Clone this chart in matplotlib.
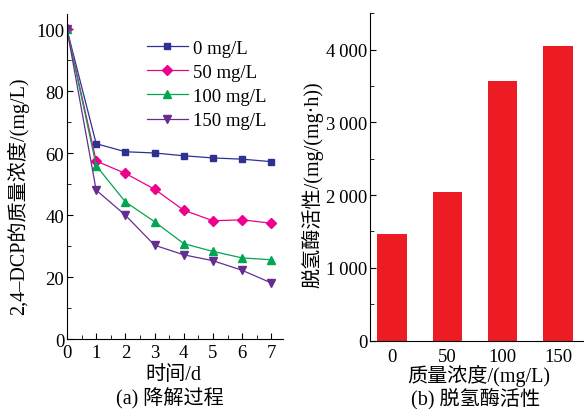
import matplotlib
matplotlib.use("Agg")
import matplotlib.pyplot as plt
from matplotlib.ticker import MultipleLocator, FuncFormatter

plt.rcParams['font.family'] = ['Liberation Serif', 'Noto Sans CJK SC']
plt.rcParams['axes.unicode_minus'] = False

days = [0, 1, 2, 3, 4, 5, 6, 7]
c0 = [100, 63.1, 60.5, 60.1, 59.2, 58.5, 58.1, 57.3]
c50 = [100, 57.5, 53.5, 48.4, 41.6, 38.2, 38.5, 37.4]
c100 = [100, 56.0, 44.3, 37.9, 30.8, 28.3, 26.2, 25.6]
c150 = [100, 48.1, 40.0, 30.3, 27.2, 25.3, 22.2, 18.1]
series_labels = ['0 mg/L', '50 mg/L', '100 mg/L', '150 mg/L']

bar_cats = ['0', '50', '100', '150']
activity = [1471, 2044, 3570, 4051]

W, H = 584, 410
fig = plt.figure(figsize=(W / 100, H / 100), dpi=100)
fs = 13.5
lfs = 14.5


def fx(px):
    return px / W


def fy(py):
    return 1 - py / H


ax1 = fig.add_axes([0.1147, 0.1707, 0.370, 0.7927])
styles = [('#2E3192', 's', 5), ('#EC008C', 'D', 5), ('#00A651', '^', 6), ('#662D91', 'v', 6)]
for ys, (col, mk, ms), lab in zip([c0, c50, c100, c150], styles, series_labels):
    ax1.plot(days, ys, color=col, marker=mk, markersize=ms,
             linewidth=0.9, label=lab)
ax1.set_xlim(0, 7.4)
ax1.set_ylim(0, 105)
ax1.xaxis.set_major_locator(MultipleLocator(1))
ax1.xaxis.set_minor_locator(MultipleLocator(0.5))
ax1.yaxis.set_major_locator(MultipleLocator(20))
ax1.yaxis.set_minor_locator(MultipleLocator(10))
ax1.tick_params(which='both', direction='in', labelsize=fs)
ax1.tick_params(which='major', length=4)
ax1.tick_params(which='minor', length=3)
ax1.tick_params(axis='y', pad=2)
for s in ['top', 'right']:
    ax1.spines[s].set_visible(False)
fig.text(fx(18), fy(196), '2,4–DCP的质量浓度/(mg/L)', rotation=90,
         ha='center', va='center', fontsize=lfs)
fig.text(fx(173), fy(376), '时间/d', ha='center', va='center', fontsize=lfs)
fig.text(fx(170), fy(399), '(a) 降解过程', ha='center', va='center', fontsize=lfs)
ax1.legend(loc='upper right', bbox_to_anchor=(0.96, 0.945), frameon=False,
           fontsize=fs, handlelength=2.2, handletextpad=0.3, labelspacing=0.38,
           borderaxespad=0)

ax2 = fig.add_axes([0.6336, 0.1666, 0.3647, 0.799])
x = range(len(bar_cats))
ax2.bar(x, activity, width=0.53, color='#ED1C24')
ax2.set_xlim(-0.4, 3.45)
ax2.set_ylim(0, 4500)
ax2.set_xticks(list(x))
ax2.set_xticklabels(bar_cats)
ax2.yaxis.set_major_locator(MultipleLocator(1000))
ax2.yaxis.set_minor_locator(MultipleLocator(500))
ax2.yaxis.set_major_formatter(FuncFormatter(
    lambda v, p: '0' if v == 0 else f'{int(v):,}'.replace(',', '\u2009')))
ax2.tick_params(which='both', direction='in', labelsize=fs)
ax2.tick_params(axis='y', which='major', length=4, pad=2)
ax2.tick_params(axis='y', which='minor', length=3)
ax2.tick_params(axis='x', length=0, pad=5)
for s in ['top', 'right']:
    ax2.spines[s].set_visible(False)
fig.text(fx(312), fy(185), '脱氢酶活性/(mg/(mg·h))', rotation=90,
         ha='center', va='center', fontsize=lfs)
fig.text(fx(479), fy(376), '质量浓度/(mg/L)', ha='center', va='center', fontsize=lfs)
fig.text(fx(476), fy(399), '(b) 脱氢酶活性', ha='center', va='center', fontsize=lfs)

fig.savefig('out.png', dpi=100)
